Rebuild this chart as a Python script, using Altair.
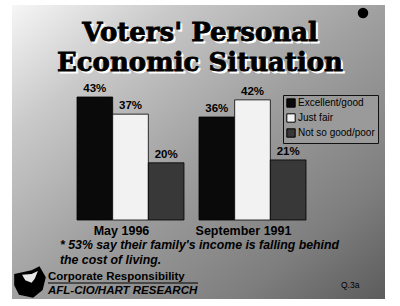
import altair as alt
import pandas as pd

groups = ["May 1996", "September 1991"]
series = ["Excellent/good", "Just fair", "Not so good/poor"]
values_may96 = [43, 37, 20]
values_sep91 = [36, 42, 21]
colors = ["#0a0a0a", "#f2f2f2", "#383838"]

rows = []
for g, vals in zip(groups, [values_may96, values_sep91]):
    for s, v in zip(series, vals):
        rows.append({"group": g, "series": s, "value": v, "label": f"{v}%"})
df = pd.DataFrame(rows)

W, H = 400, 306

xscale = alt.Scale(domain=groups, range=[77, 306], paddingInner=0.123, paddingOuter=0)
yscale = alt.Scale(domain=[0, 43], range=[220, 97])
cscale = alt.Scale(domain=series, range=colors)

grad = {
    "gradient": "linear", "x1": 0, "y1": 0, "x2": 1, "y2": 1,
    "stops": [
        {"offset": 0.0, "color": "#f6f6f6"},
        {"offset": 0.22, "color": "#c9c9c9"},
        {"offset": 0.5, "color": "#a0a0a0"},
        {"offset": 0.8, "color": "#7e7e7e"},
        {"offset": 1.0, "color": "#5c5c5c"},
    ],
}

base = alt.Chart(df)

bg = alt.Chart(pd.DataFrame({"a": [0]})).mark_rect(fill=grad).encode(
    x=alt.value(12), x2=alt.value(385), y=alt.value(5), y2=alt.value(299)
)

dot = alt.Chart(pd.DataFrame({"a": [0]})).mark_circle(color="black", opacity=1, size=110).encode(
    x=alt.value(363), y=alt.value(13)
)

bars = base.mark_bar(stroke="#000000", strokeWidth=0.8).encode(
    x=alt.X("group:N", scale=xscale, axis=None),
    xOffset=alt.XOffset("series:N", sort=series),
    y=alt.Y("value:Q", scale=yscale, axis=None),
    y2=alt.value(220),
    color=alt.Color(
        "series:N", scale=cscale, sort=series,
        legend=alt.Legend(
            orient="none", legendX=283, legendY=95, title=None,
            strokeColor="#111111", padding=3, symbolType="square",
            symbolSize=70, symbolStrokeColor="#000000", symbolStrokeWidth=1,
            labelFontSize=10, labelFont="Liberation Sans", labelColor="#000000",
            rowPadding=1, symbolOffset=0, labelOffset=2,
        ),
    ),
)

labels = base.mark_text(
    baseline="bottom", dy=-3, fontSize=11.5, fontWeight="bold", font="Liberation Sans", color="#000000"
).encode(
    x=alt.X("group:N", scale=xscale, axis=None),
    xOffset=alt.XOffset("series:N", sort=series),
    y=alt.Y("value:Q", scale=yscale, axis=None),
    text="label:N",
)

grp_df = pd.DataFrame({"group": groups})
glabels = alt.Chart(grp_df).mark_text(
    baseline="middle", fontSize=12.5, fontWeight="bold", font="Liberation Sans", color="#000000", dx=-9
).encode(
    x=alt.X("group:N", scale=xscale, axis=None),
    y=alt.value(231),
    text="group:N",
)

title_lines = ["Voters' Personal", "Economic Situation"]
title_y = [33, 63]
tdf = pd.DataFrame({"t": title_lines, "y": title_y})
title_shadow = alt.Chart(tdf).mark_text(
    fontSize=26, fontWeight="bold", font="DejaVu Serif", color="#ffffff", baseline="middle", dx=2, dy=2,
    stroke="#ffffff", strokeWidth=0.8
).encode(x=alt.value(200), y=alt.Y("y:Q", scale=None), text="t:N")
title_text = alt.Chart(tdf).mark_text(
    fontSize=26, fontWeight="bold", font="DejaVu Serif", color="#000000", baseline="middle",
    stroke="#000000", strokeWidth=0.8
).encode(x=alt.value(200), y=alt.Y("y:Q", scale=None), text="t:N")

foot_lines = ["* 53% say their family's income is falling behind", "the cost of living."]
fdf = pd.DataFrame({"t": foot_lines, "y": [245, 260]})
foot = alt.Chart(fdf).mark_text(
    fontSize=12.3, fontWeight="bold", fontStyle="italic", font="Liberation Sans", color="#000000",
    align="left", baseline="middle"
).encode(x=alt.value(60), y=alt.Y("y:Q", scale=None), text="t:N")

corp = alt.Chart(pd.DataFrame({"t": ["Corporate Responsibility"]})).mark_text(
    fontSize=11.5, fontWeight="bold", font="Liberation Sans", color="#000000", align="left", baseline="middle"
).encode(x=alt.value(48), y=alt.value(277), text="t:N")
afl = alt.Chart(pd.DataFrame({"t": ["AFL-CIO/HART RESEARCH"]})).mark_text(
    fontSize=11.5, fontWeight="bold", fontStyle="italic", font="Liberation Sans", color="#000000",
    align="left", baseline="middle"
).encode(x=alt.value(48), y=alt.value(291), text="t:N")
uline = alt.Chart(pd.DataFrame({"a": [0]})).mark_rule(color="#000000", strokeWidth=1).encode(
    x=alt.value(48), x2=alt.value(198), y=alt.value(283)
)
q3a = alt.Chart(pd.DataFrame({"t": ["Q.3a"]})).mark_text(
    fontSize=8.5, font="Liberation Sans", color="#000000", align="left", baseline="middle"
).encode(x=alt.value(341), y=alt.value(285), text="t:N")

logo = alt.Chart(pd.DataFrame({"a": [0]})).mark_point(
    shape="M-1,-0.5L0.1,-0.75L0.6,-1L1,-0.3L0.8,0.5L0.2,1L-0.7,0.8L-1,0.2Z",
    filled=True, color="#000000", opacity=1, size=1000,
).encode(x=alt.value(30), y=alt.value(282))
logo_map = alt.Chart(pd.DataFrame({"a": [0]})).mark_point(
    shape="M-1,-0.4L0.2,-0.5L1,-0.9L0.6,0.1L0.2,0.6L-0.6,0.3Z",
    filled=True, color="#e8e8e8", opacity=1, size=250,
).encode(x=alt.value(30), y=alt.value(278))

chart = alt.layer(
    bg, dot, title_shadow, title_text, bars, labels, glabels, foot, corp, uline, afl, q3a, logo, logo_map
).properties(
    width=W, height=H, padding=0, autosize=alt.AutoSizeParams(type="none"), background="#ffffff"
).configure_view(stroke=None).configure_legend(fillColor="#9a9a9a")

chart.save("out.html", embed_options={"renderer": "svg", "actions": False})
